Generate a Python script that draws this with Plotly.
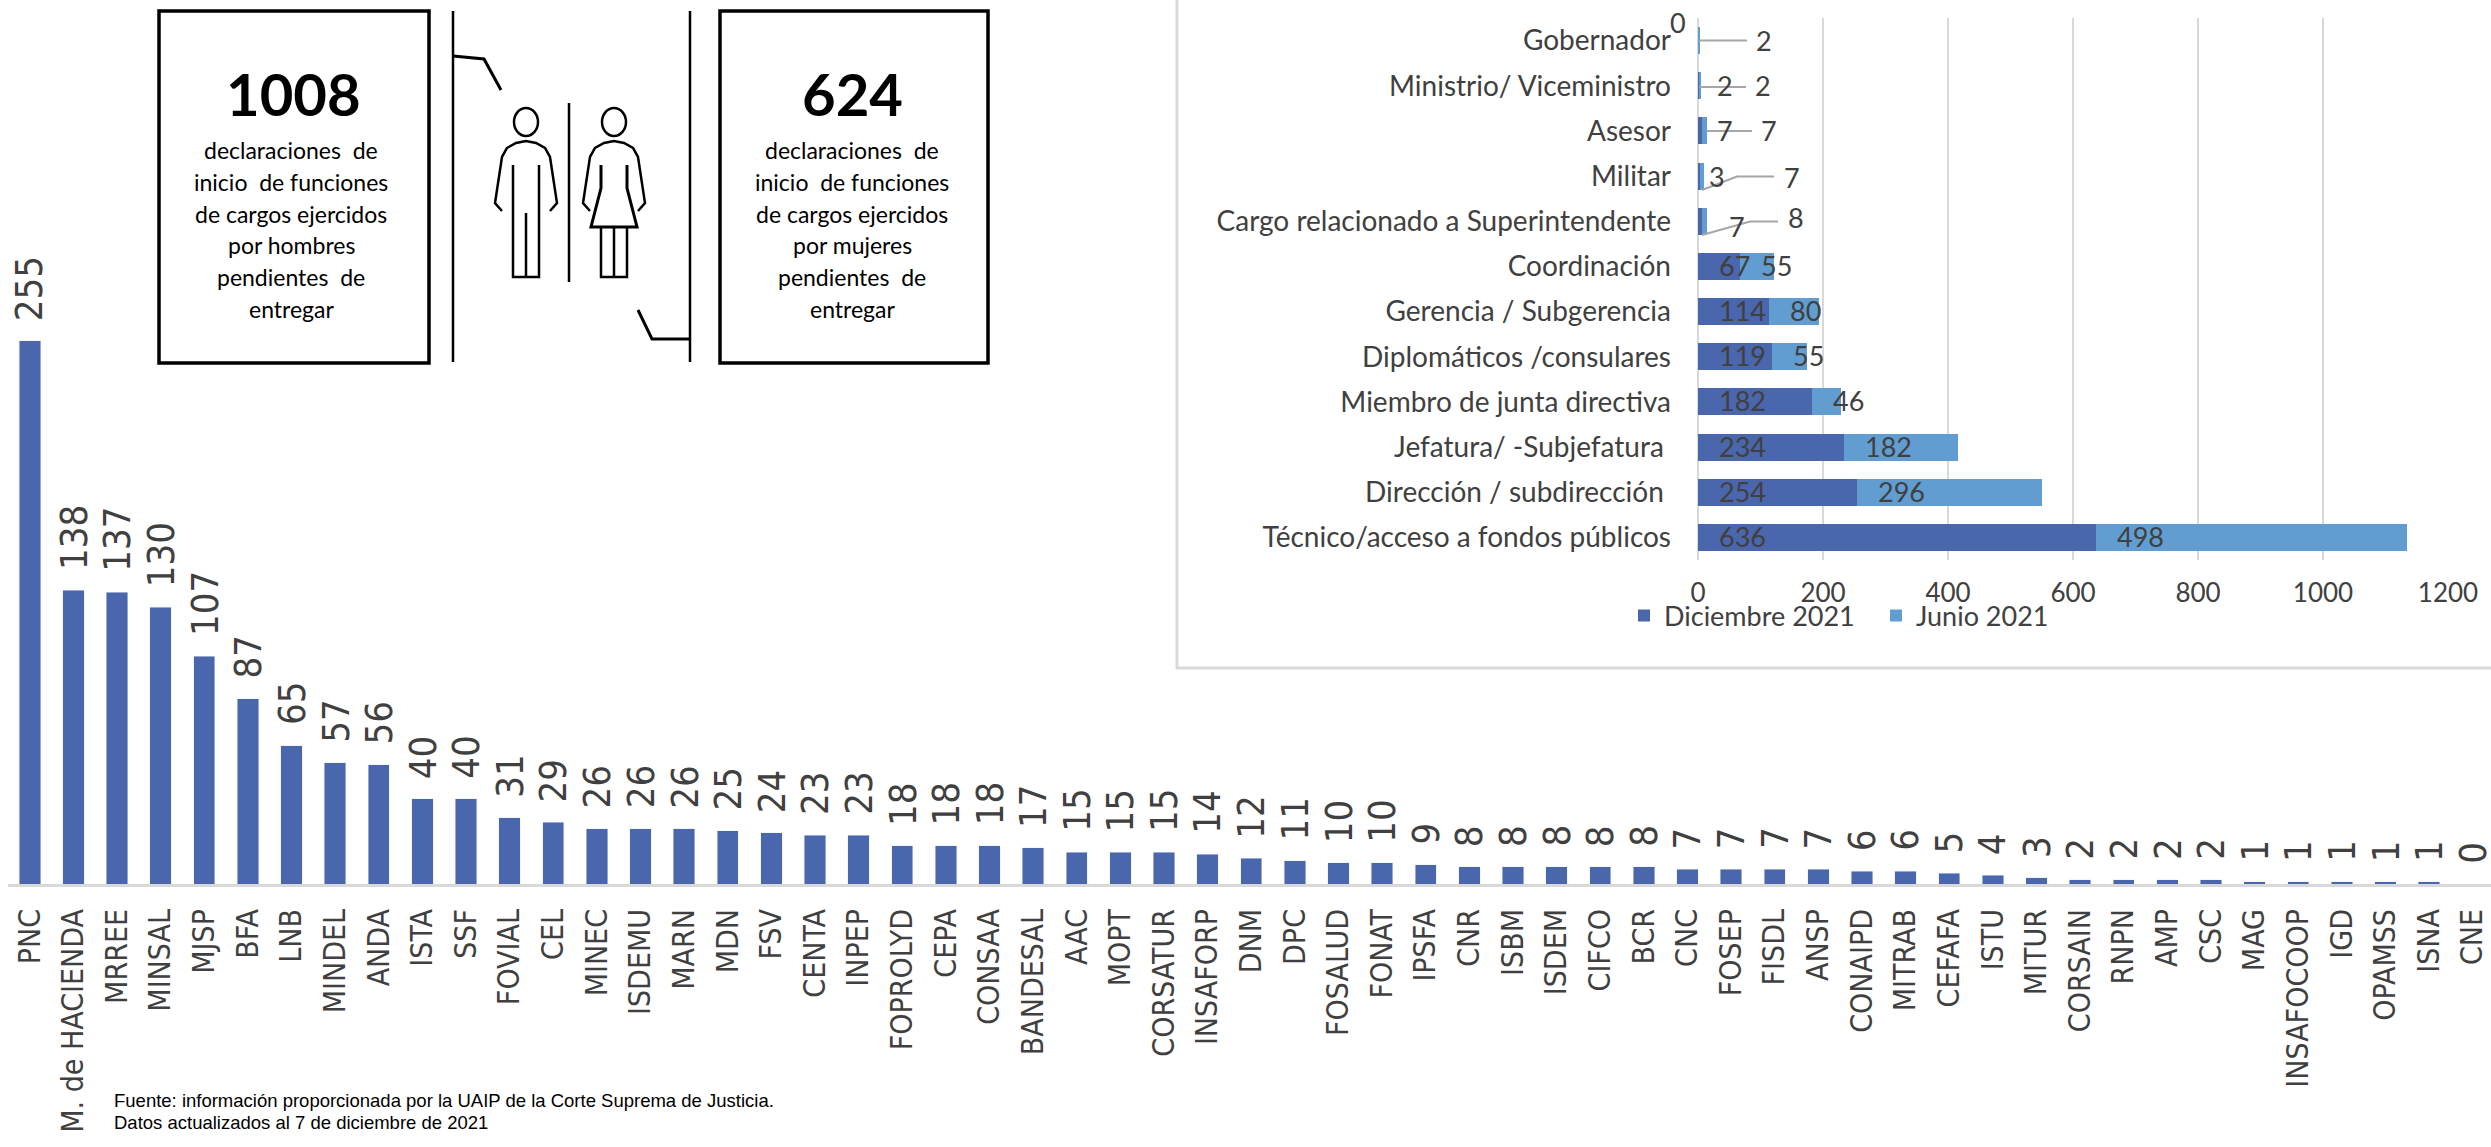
import plotly.graph_objects as go

W, H = 2491, 1147

# Main chart data
entities = ["PNC","M. de HACIENDA","MRREE","MINSAL","MJSP","BFA","LNB","MINDEL","ANDA","ISTA","SSF","FOVIAL","CEL","MINEC","ISDEMU","MARN","MDN","FSV","CENTA","INPEP","FOPROLYD","CEPA","CONSAA","BANDESAL","AAC","MOPT","CORSATUR","INSAFORP","DNM","DPC","FOSALUD","FONAT","IPSFA","CNR","ISBM","ISDEM","CIFCO","BCR","CNC","FOSEP","FISDL","ANSP","CONAIPD","MITRAB","CEFAFA","ISTU","MITUR","CORSAIN","RNPN","AMP","CSC","MAG","INSAFOCOOP","IGD","OPAMSS","ISNA","CNE"]
pending = [255,138,137,130,107,87,65,57,56,40,40,31,29,26,26,26,25,24,23,23,18,18,18,17,15,15,15,14,12,11,10,10,9,8,8,8,8,8,7,7,7,7,6,6,5,4,3,2,2,2,2,1,1,1,1,1,0]

# Inset chart data (top to bottom)
cargos = ["Gobernador","Ministrio/ Viceministro","Asesor","Militar","Cargo relacionado a Superintendente","Coordinación","Gerencia / Subgerencia","Diplomáticos /consulares","Miembro de junta directiva","Jefatura/ -Subjefatura\u00a0","Dirección / subdirección\u00a0","Técnico/acceso a fondos públicos"]
diciembre = [0,2,7,3,7,67,114,119,182,234,254,636]
junio = [2,2,7,7,8,55,80,55,46,182,296,498]

# Label offsets of the hand-placed small inset labels, in pixels from the axis zero / bar centre
dec_small_dx = [-20,27,27,19,39]
dec_small_dy = [-18,0,0,0,5]
jun_small_dx = [66,65,71,94,98]
jun_small_dy = [0,0,0,1,-4]

DARK = "#404040"
BLUE = "#4A66AC"
LIGHT = "#629DD1"
GRID = "#D9D9D9"
NARROW = "DejaVu Sans Condensed"
LATO = "Lato"

def px(x): return x / W
def py(y): return 1 - y / H

fig = go.Figure()
fig.add_trace(go.Bar(x=entities, y=pending, marker_color=BLUE, width=0.49, showlegend=False,
                     xaxis="x", yaxis="y", hoverinfo="x+y"))
fig.add_trace(go.Bar(y=cargos, x=diciembre, orientation="h", name="Diciembre 2021", marker_color=BLUE,
                     marker_line_width=0, width=0.6, xaxis="x2", yaxis="y2"))
fig.add_trace(go.Bar(y=cargos, x=junio, orientation="h", name="Junio 2021", marker_color=LIGHT,
                     marker_line_width=0, width=0.6, xaxis="x2", yaxis="y2"))

annotations = []
for e, v in zip(entities, pending):
    annotations.append(dict(x=e, y=v, xref="x", yref="y", text=str(v), textangle=-90, showarrow=False,
                            xanchor="center", yanchor="bottom", yshift=18, height=36,
                            font=dict(family=NARROW, size=38, color=DARK)))

for i, c in enumerate(cargos):
    d, j = diciembre[i], junio[i]
    if i < 5:
        annotations.append(dict(x=0, y=c, xref="x2", yref="y2", text=str(d), showarrow=False, xanchor="center",
                                xshift=dec_small_dx[i], yshift=-dec_small_dy[i],
                                font=dict(family=LATO, size=27, color=DARK)))
        annotations.append(dict(x=0, y=c, xref="x2", yref="y2", text=str(j), showarrow=False, xanchor="center",
                                xshift=jun_small_dx[i], yshift=-jun_small_dy[i],
                                font=dict(family=LATO, size=27, color=DARK)))
    else:
        annotations.append(dict(x=0, y=c, xref="x2", yref="y2", text=str(d), showarrow=False, xanchor="left",
                                xshift=19, yshift=1, font=dict(family=LATO, size=27, color=DARK)))
        annotations.append(dict(x=d, y=c, xref="x2", yref="y2", text=str(j), showarrow=False, xanchor="left",
                                xshift=19, yshift=1, font=dict(family=LATO, size=27, color=DARK)))

def note(text, x, y, size, family=LATO, color="#000000", anchor="center"):
    annotations.append(dict(x=px(x), y=py(y), xref="paper", yref="paper", text=text, showarrow=False,
                            xanchor=anchor, yanchor="middle", font=dict(family=family, size=size, color=color)))

box_men = ["declaraciones\u00a0\u00a0de","inicio\u00a0\u00a0de funciones","de cargos ejercidos","por hombres","pendientes\u00a0\u00a0de","entregar"]
box_women = ["declaraciones\u00a0\u00a0de","inicio\u00a0\u00a0de funciones","de cargos ejercidos","por mujeres","pendientes\u00a0\u00a0de","entregar"]
line_y = [150,182,214,245,277,309]
note("<b>1008</b>", 293, 94, 58)
note("<b>624</b>", 852, 94, 58)
for t, y in zip(box_men, line_y):
    note(t, 291, y, 23)
for t, y in zip(box_women, line_y):
    note(t, 852, y, 23)
note("Fuente: información proporcionada por la UAIP de la Corte Suprema de Justicia.", 112, 1100, 18.5, "Liberation Sans", "#000000", "left")
note("Datos actualizados al 7 de diciembre de 2021", 112, 1122, 18.5, "Liberation Sans", "#000000", "left")

shapes = []
def poly(points, color="#000000", width=2.5):
    d = "M " + " L ".join(f"{px(x):.6f},{py(y):.6f}" for x, y in points)
    shapes.append(dict(type="path", path=d, xref="paper", yref="paper", line=dict(color=color, width=width)))

def rect(x0, y0, x1, y1, width=3.5):
    shapes.append(dict(type="rect", xref="paper", yref="paper", x0=px(x0), x1=px(x1), y0=py(y1), y1=py(y0),
                       line=dict(color="#000000", width=width)))

def head(cx, cy=122, rx=12, ry=14):
    shapes.append(dict(type="circle", xref="paper", yref="paper", x0=px(cx-rx), x1=px(cx+rx), y0=py(cy+ry), y1=py(cy-ry),
                       line=dict(color="#000000", width=2.5)))

rect(159, 11, 429, 363)
rect(720, 11, 988, 363)
poly([(453, 11), (453, 362)])
poly([(690, 11), (690, 362)])
poly([(453, 56), (484, 59), (501, 90)], width=3)
poly([(638, 310), (652, 339), (690, 339)], width=3)
poly([(569, 103), (569, 282)])

def torso(c):
    poly([(c-24, 211), (c-31, 203), (c-24, 157), (c-19, 148), (c-10, 143), (c, 141),
          (c+10, 143), (c+19, 148), (c+24, 157), (c+31, 203), (c+24, 211)])

# man
head(526)
torso(526)
poly([(513, 165), (513, 277), (539, 277), (539, 165)])
poly([(526, 213), (526, 277)])
# woman
head(614)
torso(614)
poly([(601, 165), (601, 188), (591, 227), (637, 227), (627, 188), (627, 165)], width=3)
poly([(601, 227), (601, 277), (627, 277), (627, 227)])
poly([(614, 227), (614, 277)])

# inset frame
poly([(1177, 0), (1177, 668), (2491, 668)], color=GRID, width=3)
# leader lines of the small inset labels
LEAD = "#A6A6A6"
poly([(1699, 40.5), (1747, 40.5)], LEAD, 2)
poly([(1699, 87), (1746, 87)], LEAD, 2)
poly([(1707, 131), (1752, 131)], LEAD, 2)
poly([(1702, 190), (1737, 176.5), (1774, 176.5)], LEAD, 2)
poly([(1702, 235), (1750, 221.5), (1778, 221.5)], LEAD, 2)

fig.update_layout(
    width=W, height=H, autosize=False,
    margin=dict(l=0, r=0, t=0, b=0, autoexpand=False),
    paper_bgcolor="#FFFFFF", plot_bgcolor="rgba(0,0,0,0)",
    barmode="stack",
    xaxis=dict(domain=[px(8), 1], range=[-0.5, 56.42], type="category", categoryorder="array", categoryarray=entities,
               anchor="y", tickmode="array", tickvals=entities, ticktext=entities, tickangle=-90, automargin=False,
               ticks="", ticklabelstandoff=10, showline=True, linecolor=GRID, linewidth=3, showgrid=False, zeroline=False,
               tickfont=dict(family=NARROW, size=30, color=DARK)),
    yaxis=dict(domain=[py(884), py(300)], range=[0, 274.2], visible=False, anchor="x", automargin=False),
    xaxis2=dict(domain=[px(1698), px(2448)], range=[0, 1200], dtick=200, anchor="y2", showgrid=True, gridcolor=GRID, gridwidth=1.5,
                zeroline=True, zerolinecolor=GRID, zerolinewidth=1.5, ticks="", ticklabelstandoff=15, automargin=False,
                tickfont=dict(family=LATO, size=26, color=DARK)),
    yaxis2=dict(domain=[py(560), py(18)], range=[11.5, -0.5], type="category", categoryorder="array", categoryarray=cargos,
                anchor="x2", ticks="", ticklabelstandoff=26, showgrid=False, zeroline=False, showline=False, automargin=False,
                tickfont=dict(family=LATO, size=28, color=DARK)),
    legend=dict(orientation="h", x=px(1624), y=py(616), xanchor="left", yanchor="middle", bgcolor="rgba(0,0,0,0)",
                font=dict(family=LATO, size=27, color=DARK), traceorder="normal", entrywidth=207, entrywidthmode="pixels"),
    annotations=annotations, shapes=shapes,
    showlegend=True,
)

fig.write_html("out.html", config=dict(displayModeBar=False), post_script="document.body.style.margin='0';")
